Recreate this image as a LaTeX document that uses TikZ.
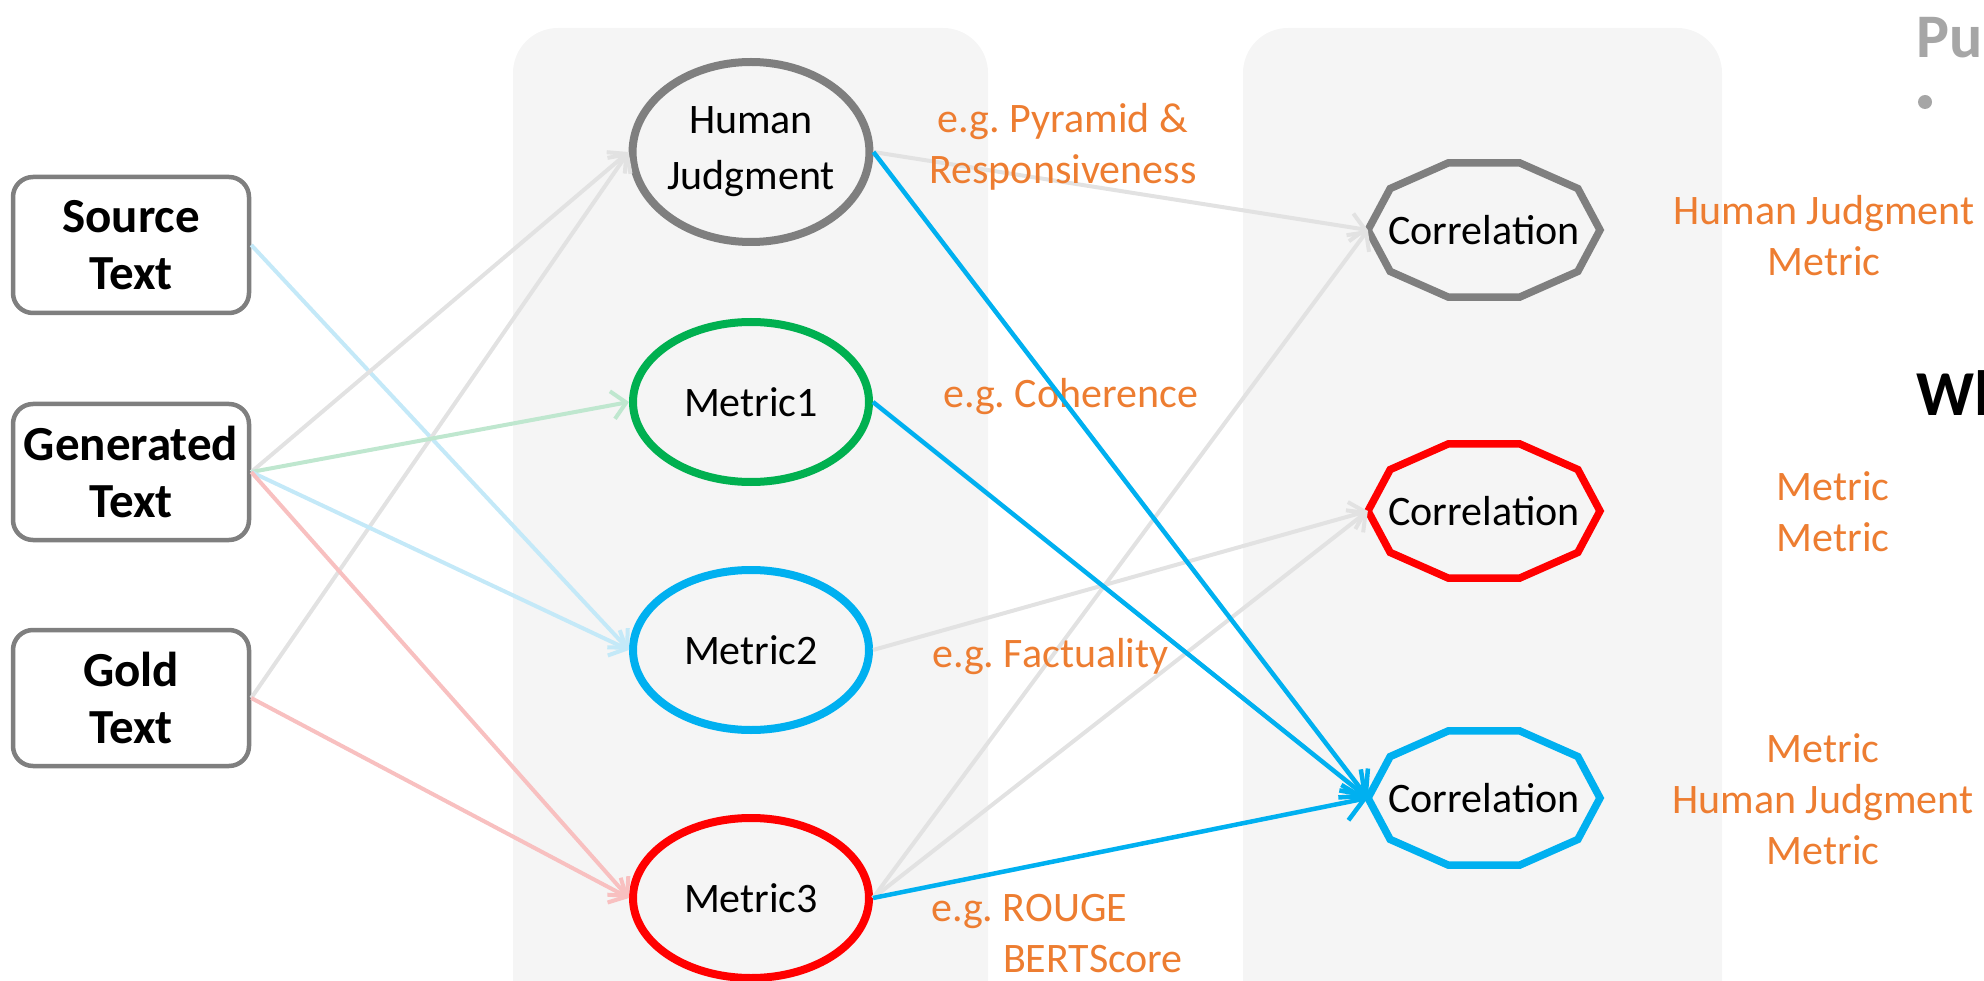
\documentclass[tikz,border=0pt]{standalone}
\usepackage{fontspec}
\setmainfont{Carlito}
\frenchspacing
\usetikzlibrary{arrows.meta,shapes.geometric}
\definecolor{panelc}{HTML}{F5F5F5}
\definecolor{grayc}{HTML}{7F7F7F}
\definecolor{greenc}{HTML}{00B050}
\definecolor{bluec}{HTML}{00B0F0}
\definecolor{redc}{HTML}{FF0000}
\definecolor{orangec}{HTML}{ED7D31}
\definecolor{fgray}{HTML}{E2E2E2}
\definecolor{fblue}{HTML}{C4E9F8}
\definecolor{fgreen}{HTML}{BFE7CF}
\definecolor{fred}{HTML}{F8C0C0}
\definecolor{pugray}{HTML}{A6A6A6}
\begin{document}
\begin{tikzpicture}[x=1pt,y=-1pt,
  srcbox/.style={draw=grayc, line width=4.5pt, rounded corners=20pt, fill=white, minimum width=236pt, minimum height=136pt, inner sep=0pt, align=center, font=\bfseries\fontsize{49}{57}\selectfont},
  evalnode/.style={ellipse, draw, line width=8pt, minimum width=236pt, minimum height=160pt, inner sep=0pt, align=center, font=\fontsize{42}{56}\selectfont},
  corrnode/.style={rectangle, minimum width=232pt, minimum height=141pt, inner sep=0pt, font=\fontsize{42}{51}\selectfont},
  decagon/.style={line width=7.5pt, fill=panelc, line join=miter},
  lbl/.style={text=orangec, inner sep=0pt, align=center, font=\fontsize{42}{51}\selectfont},
  faint/.style={line width=4pt, -{Straight Barb[length=14pt,width=28pt]}},
  strong/.style={line width=4.5pt, draw=bluec, -{Straight Barb[length=20pt,width=36pt]}},
]
\useasboundingbox (0,0) rectangle (1984,981);
\clip (0,0) rectangle (1984,981);
% panels
\fill[panelc, rounded corners=45pt] (513,28) rectangle (988,1040);
\fill[panelc, rounded corners=45pt] (1243,28) rectangle (1722,1040);

% decagon positions
\coordinate (c1p) at (1484,230);
\coordinate (c2p) at (1484,511);
\coordinate (c3p) at (1484,798);
\foreach \p/\c in {c1p/grayc, c2p/redc, c3p/bluec}{
  \draw[decagon, draw=\c] ([shift={(0:116 and 70.5)}]\p)
    \foreach \a in {36,72,...,324}{ -- ([shift={(\a:116 and 70.5)}]\p)} -- cycle;
}
\node[corrnode] (c1) at (c1p) {Correlation};
\node[corrnode] (c2) at (c2p) {Correlation};
\node[corrnode] (c3) at (c3p) {Correlation};

% source boxes
\node[srcbox] (src) at (131,245) {Source\\Text};
\node[srcbox] (gen) at (131,472) {Generated\\Text};
\node[srcbox] (gold) at (131,698) {Gold\\Text};

% evaluation nodes
\node[evalnode, draw=grayc, minimum height=180pt] (hj) at (751,152) {Human\\Judgment};
\node[evalnode, draw=greenc] (m1) at (751,402) {Metric1};
\node[evalnode, draw=bluec] (m2) at (751,650) {Metric2};
\node[evalnode, draw=redc] (m3) at (751,898) {Metric3};

% faint connectors
\draw[faint, fblue] (src.east) -- (m2.west);
\draw[faint, fgray] (gen.east) -- (hj.west);
\draw[faint, fgray] (gold.east) -- (hj.west);
\draw[faint, fgreen] (gen.east) -- (m1.west);
\draw[faint, fblue] (gen.east) -- (m2.west);
\draw[faint, fred] (gen.east) -- (m3.west);
\draw[faint, fred] (gold.east) -- (m3.west);
\draw[faint, fgray] (hj.east) -- (c1.west);
\draw[faint, fgray] (m2.east) -- (c2.west);
\draw[faint, fgray] (m3.east) -- (c1.west);
\draw[faint, fgray] (m3.east) -- (c2.west);

% labels (anchor base = baseline of the last line)
\node[lbl, anchor=base] (lpyr) at (1063,184) {e.g. Pyramid \&\\Responsiveness};
\node[lbl, anchor=base west] (lcoh) at (943,408) {e.g. Coherence};
\node[lbl, anchor=base west] (lfac) at (932,667) {e.g. Factuality};
\node[lbl, anchor=base west, align=left] (lrou) at (931,972) {e.g. ROUGE\\\phantom{e.g. }BERTScore};

% strong connectors
\draw[strong] (hj.east) -- (c3.west);
\draw[strong] (m1.east) -- (c3.west);
\draw[strong] (m3.east) -- (c3.west);

% right labels
\node[lbl, anchor=base] (r1) at (1824,276) {Human Judgment\\Metric};
\node[lbl, anchor=base] (r2) at (1833,551) {Metric\\Metric};
\node[lbl, anchor=base] (r3) at (1823,864) {Metric\\Human Judgment\\Metric};

% top-right fragments
\node[anchor=base west, inner sep=0pt, text=pugray, font=\bfseries\fontsize{62}{62}\selectfont] (pu) at (1916,58) {Pu};
\node[circle, fill=pugray, minimum size=14pt, inner sep=0pt] (bul) at (1925,102) {};
\node[anchor=base west, inner sep=0pt, font=\bfseries\fontsize{64}{64}\selectfont] (wh) at (1916,416) {Wh};
\end{tikzpicture}
\end{document}
